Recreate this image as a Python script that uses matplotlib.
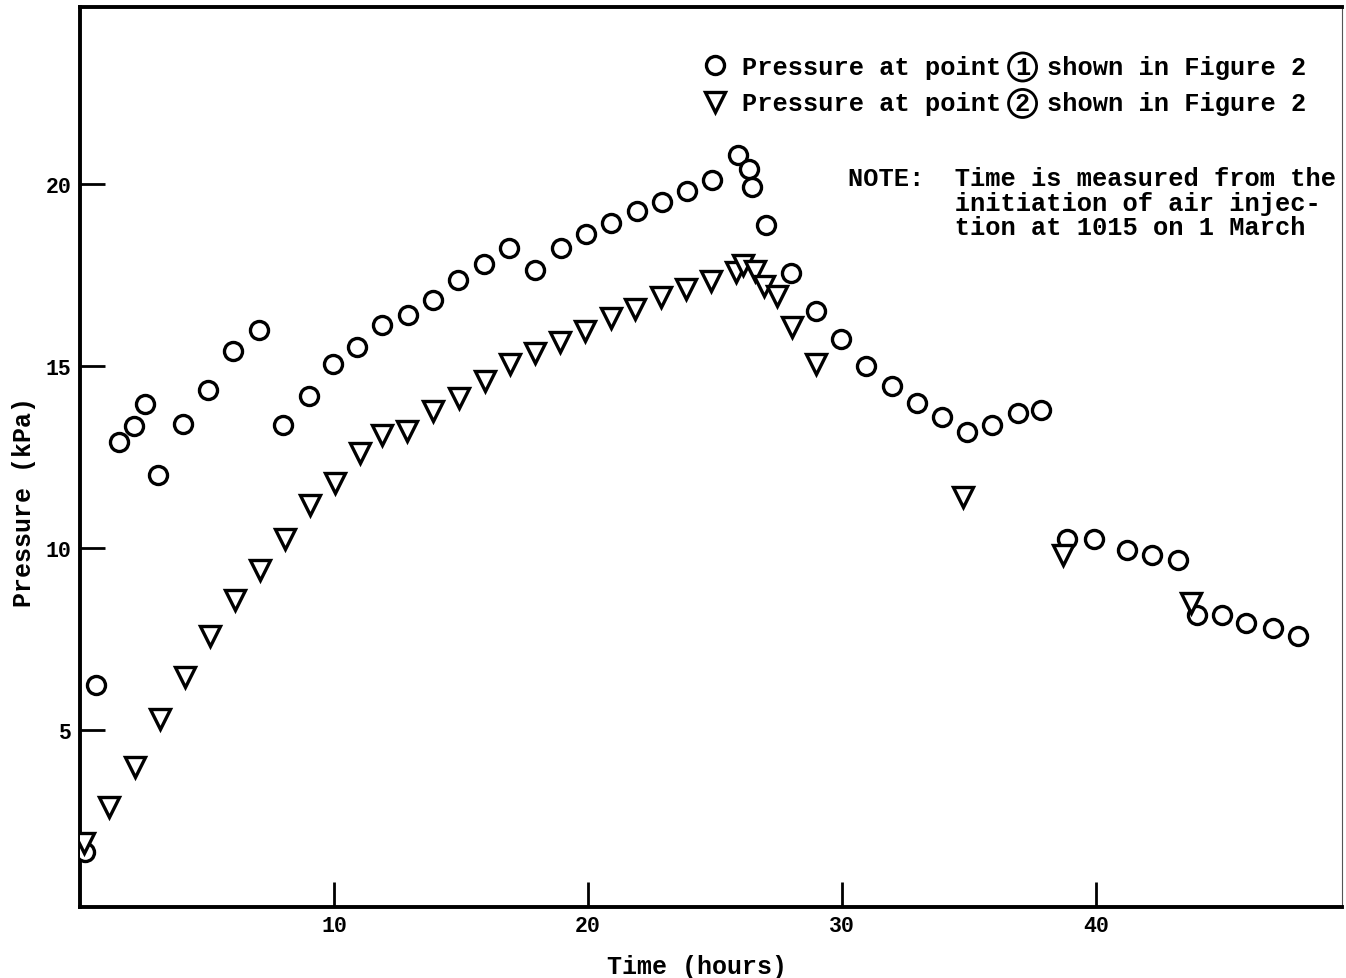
import matplotlib
matplotlib.use("Agg")
import matplotlib.pyplot as plt

# Pressure at point 1 (circles)
t1 = [0.2, 0.63, 1.54, 2.13, 2.56, 3.07, 4.06, 5.04, 6.02, 7.05, 7.99, 9.02,
      9.96, 10.9, 11.89, 12.91, 13.9, 14.88, 15.9, 16.89, 17.91, 18.94, 19.92,
      20.9, 21.93, 22.91, 23.9, 24.88, 25.9, 26.34, 26.46, 27.0, 27.99, 28.98,
      29.96, 30.94, 31.97, 32.95, 33.94, 34.92, 35.9, 36.93, 37.83, 38.86,
      39.92, 41.22, 42.2, 43.23, 43.98, 44.96, 45.94, 46.97, 47.95]
p1 = [1.65, 6.24, 12.9, 13.35, 13.96, 12.0, 13.4, 14.34, 15.41, 15.99, 13.38,
      14.18, 15.06, 15.52, 16.13, 16.4, 16.81, 17.36, 17.8, 18.24, 17.64, 18.24,
      18.63, 18.93, 19.26, 19.51, 19.81, 20.11, 20.8, 20.41, 19.92, 18.87,
      17.55, 16.51, 15.74, 15.0, 14.45, 13.98, 13.6, 13.19, 13.38, 13.71, 13.79,
      10.25, 10.25, 9.95, 9.81, 9.67, 8.16, 8.16, 7.94, 7.8, 7.58]

# Pressure at point 2 (triangles)
t2 = [0.16, 1.14, 2.17, 3.15, 4.13, 5.12, 6.1, 7.09, 8.07, 9.06, 10.04, 11.02,
      11.89, 12.87, 13.9, 14.92, 15.94, 16.93, 17.91, 18.9, 19.88, 20.9, 21.85,
      22.87, 23.86, 24.84, 25.83, 26.1, 26.57, 26.93, 27.44, 28.03, 28.98,
      34.76, 38.7, 43.74]
p2 = [1.9, 2.88, 3.98, 5.3, 6.46, 7.58, 8.57, 9.4, 10.25, 11.18, 11.79, 12.61,
      13.1, 13.21, 13.76, 14.12, 14.59, 15.06, 15.36, 15.66, 15.96, 16.32,
      16.57, 16.9, 17.12, 17.34, 17.58, 17.77, 17.61, 17.2, 16.92, 16.07, 15.05,
      11.4, 9.8, 8.49]

x_ticks = [10, 20, 30, 40]
y_ticks = [5, 10, 15, 20]

# legend entry text: "<pre> (n) <post>" with n drawn in a circle
label_pre = "Pressure at point"
label_post = "shown in Figure 2"
point_ids = ["1", "2"]
note = ("NOTE:  Time is measured from the\n"
        "       initiation of air injec-\n"
        "       tion at 1015 on 1 March")

mono = "Liberation Mono"
fsize = 18.3

fig = plt.figure(figsize=(13.46, 9.79), dpi=100)
ax = fig.add_axes([0.0594, 0.0725, 0.9376, 0.9193])

ax.plot(t1, p1, linestyle="none", marker="o", ms=13, mfc="white",
        mec="black", mew=2.4, label=label_pre, zorder=3)
ax.plot(t2, p2, linestyle="none", marker="v", ms=15, mfc="white",
        mec="black", mew=2.4, label=label_pre, zorder=3)

ax.set_xlim(0, 49.7)
ax.set_ylim(0.14, 24.86)
ax.set_xticks(x_ticks)
ax.set_yticks(y_ticks)
ax.tick_params(direction="in", length=18, width=2, pad=6, colors="black")
for lab in ax.get_xticklabels() + ax.get_yticklabels():
    lab.set_fontfamily(mono)
    lab.set_fontweight("bold")
    lab.set_fontsize(15.5)

for side in ("left", "bottom", "top"):
    ax.spines[side].set_linewidth(2.8)
ax.spines["right"].set_linewidth(0.8)
ax.spines["right"].set_color("#555555")

ax.set_xlabel("Time (hours)", fontfamily=mono, fontweight="bold", fontsize=18)
ax.set_ylabel("Pressure (kPa)", fontfamily=mono, fontweight="bold", fontsize=18)
ax.xaxis.set_label_coords(0.489, -0.052)
ax.yaxis.set_label_coords(-0.035, 0.451)

leg = ax.legend(loc="upper left", bbox_to_anchor=(0.4863, 0.958), frameon=False,
                prop={"family": mono, "weight": "bold", "size": fsize},
                handlelength=0.9, handletextpad=0.6,
                labelspacing=0.49, borderaxespad=0)

ax.text(0.6086, 0.823, note, transform=ax.transAxes, ha="left", va="top",
        fontfamily=mono, fontweight="bold", fontsize=fsize, linespacing=1.03)

# circled point number and trailing words for each legend entry
fig.canvas.draw()
renderer = fig.canvas.get_renderer()
to_fig = fig.transFigure.inverted()
for txt, pid in zip(leg.get_texts(), point_ids):
    bb = txt.get_window_extent(renderer)
    cw = bb.width / len(txt.get_text())
    cy = 0.5 * (bb.y0 + bb.y1)
    fx, fy = to_fig.transform((bb.x1 + cw * 1.4, cy))
    fig.text(fx, fy, pid, ha="center", va="center", fontfamily=mono,
             fontweight="bold", fontsize=fsize,
             bbox=dict(boxstyle="circle,pad=0.08", fc="none", ec="black", lw=2))
    fx, fy = to_fig.transform((bb.x1 + cw * 3.0, cy))
    fig.text(fx, fy, label_post, ha="left", va="center", fontfamily=mono,
             fontweight="bold", fontsize=fsize)

fig.savefig("out.png", dpi=100, facecolor="white")
